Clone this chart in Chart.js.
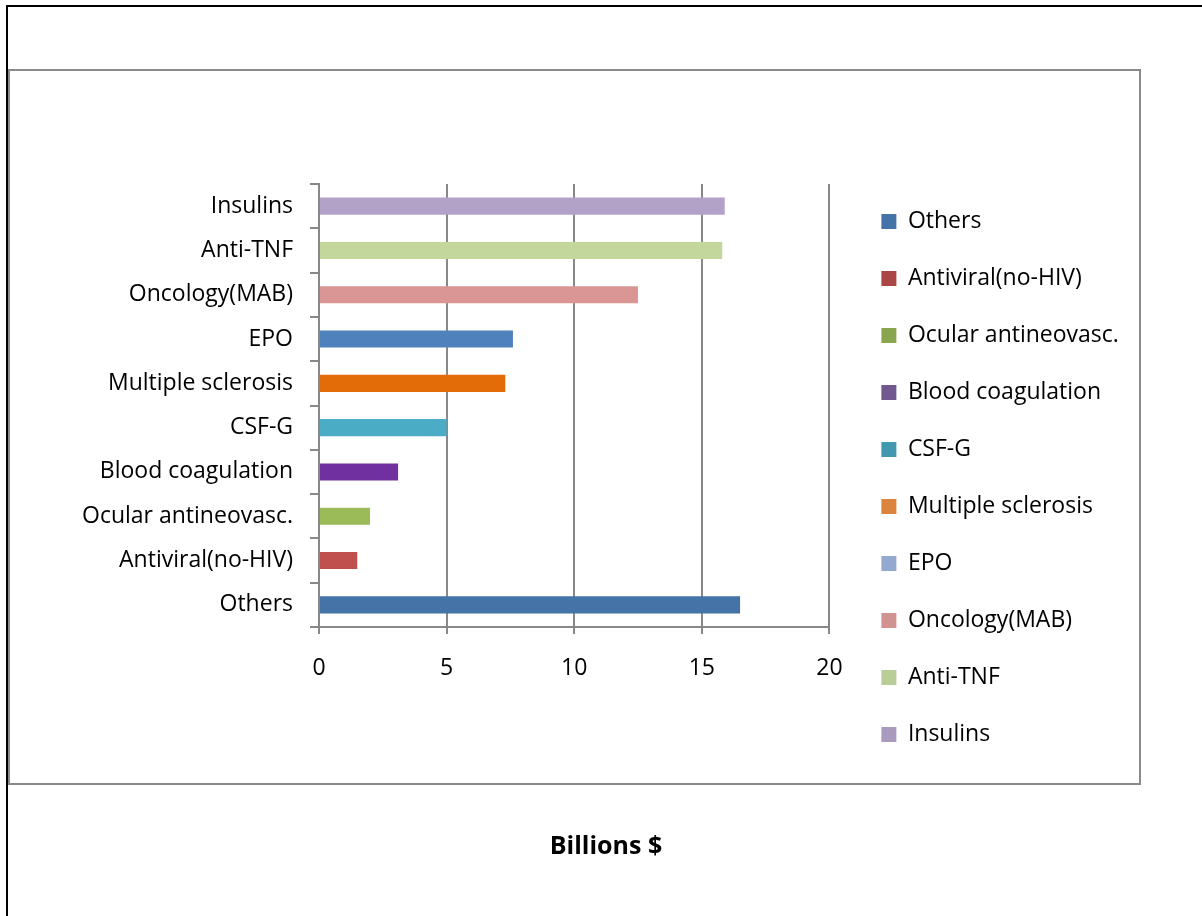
<!DOCTYPE html>
<html>
<head>
<meta charset="utf-8">
<title>Biologics sales by class</title>
<script src="https://cdn.jsdelivr.net/npm/chart.js@4/dist/chart.umd.min.js"></script>
<style>
  html, body { margin: 0; padding: 0; background: #ffffff; }
  #wrap { width: 1202px; height: 916px; position: relative; }
</style>
</head>
<body>
<div id="wrap"><canvas id="chart" width="1202" height="916"></canvas></div>
<script>
// Therapeutic classes, bottom to top on the category axis
const categories = [
  'Others', 'Antiviral(no-HIV)', 'Ocular antineovasc.', 'Blood coagulation', 'CSF-G',
  'Multiple sclerosis', 'EPO', 'Oncology(MAB)', 'Anti-TNF', 'Insulins'
];
// Sales, billions of dollars
const salesBillions = [16.5, 1.5, 2.0, 3.1, 5.0, 7.3, 7.6, 12.5, 15.8, 15.9];
// Bar fills (recoloured per bar) and the default swatches shown in the legend
const barColors = [
  '#4572A7', '#C0504D', '#9BBB59', '#7030A0', '#4BACC6',
  '#E36C09', '#4F81BD', '#D99694', '#C3D69B', '#B3A2C7'
];
const legendColors = [
  '#4572A7', '#AA4643', '#89A54E', '#71588F', '#4198AF',
  '#DB843D', '#93A9CF', '#D19392', '#B9CD96', '#A99BBD'
];
const xTickValues = [0, 5, 10, 15, 20];
const axisTitle = 'Billions $';

const FONT = '"Open Sans", "Liberation Sans", sans-serif';
const LABEL_SIZE = 23;
const GRID = '#888888';
const LEGEND_PAD = 34;
const LEGEND_BOX = 15;
const PLOT_RIGHT = 829;

// Width the legend column will need, so the plot ends where wanted
const measureCtx = document.createElement('canvas').getContext('2d');
measureCtx.font = LABEL_SIZE + 'px ' + FONT;
const widestLabel = Math.max(...categories.map(c => measureCtx.measureText(c).width));
const legendWidth = LEGEND_PAD + LEGEND_BOX + LABEL_SIZE / 2 + widestLabel;
const rightPad = 1202 - PLOT_RIGHT - legendWidth - 2;

// Page frames: outer black border and the grey box round plot and legend
const framePlugin = {
  id: 'frames',
  beforeDraw(chart) {
    const ctx = chart.ctx;
    ctx.save();
    ctx.fillStyle = '#ffffff';
    ctx.fillRect(0, 0, chart.width, chart.height);
    ctx.lineWidth = 2;
    ctx.strokeStyle = '#000000';
    ctx.strokeRect(7, 6, 1300, 1000);
    ctx.strokeStyle = '#8a8a8a';
    ctx.strokeRect(9, 70, 1131, 714);
    ctx.restore();
  }
};

// Places the legend column beside the plot and centres the title under the grey box
const layoutTweaks = {
  id: 'layoutTweaks',
  afterLayout(chart) {
    const lg = chart.legend;
    if (lg) {
      const dx = chart.chartArea.right + 18 - lg.left;
      lg.left += dx; lg.right += dx;
      lg.top -= 8; lg.bottom -= 8;
    }
    const tb = chart.titleBlock;
    if (tb) {
      tb.left = 10; tb.right = chart.width; tb.width = tb.right - tb.left;
    }
  }
};

new Chart(document.getElementById('chart'), {
  type: 'bar',
  data: {
    labels: categories,
    datasets: [{
      label: axisTitle,
      data: salesBillions,
      backgroundColor: barColors,
      borderWidth: 0,
      barPercentage: 0.385,
      categoryPercentage: 1
    }]
  },
  options: {
    indexAxis: 'y',
    responsive: false,
    animation: false,
    devicePixelRatio: 1,
    layout: { padding: { top: 184, left: 10, right: rightPad, bottom: 0 } },
    scales: {
      x: {
        type: 'linear',
        min: xTickValues[0],
        max: xTickValues[xTickValues.length - 1],
        afterBuildTicks(scale) { scale.ticks = xTickValues.map(v => ({ value: v })); },
        afterFit(scale) { scale.height = 56; },
        grid: { color: GRID, lineWidth: 2, tickLength: 7, drawTicks: true },
        border: { color: GRID, width: 2 },
        ticks: {
          color: '#000000',
          padding: 21,
          font: { family: FONT, size: LABEL_SIZE }
        }
      },
      y: {
        type: 'category',
        reverse: true,
        afterFit(scale) { scale.width = 309; },
        grid: { offset: true, drawOnChartArea: false, color: GRID, lineWidth: 2, tickLength: 9 },
        border: { color: GRID, width: 2 },
        ticks: {
          color: '#000000',
          padding: 17,
          autoSkip: false,
          font: { family: FONT, size: LABEL_SIZE }
        }
      }
    },
    plugins: {
      tooltip: { enabled: false },
      legend: {
        position: 'right',
        align: 'start',
        onClick: null,
        labels: {
          boxWidth: LEGEND_BOX,
          boxHeight: LEGEND_BOX,
          padding: LEGEND_PAD,
          color: '#000000',
          font: { family: FONT, size: LABEL_SIZE },
          generateLabels: () => categories.map((c, i) => ({
            text: c,
            fillStyle: legendColors[i],
            strokeStyle: legendColors[i],
            lineWidth: 0,
            hidden: false,
            index: i
          }))
        }
      },
      title: {
        display: true,
        text: axisTitle,
        position: 'bottom',
        color: '#000000',
        font: { family: FONT, size: 25, weight: 'bold' },
        padding: { top: 149, bottom: 54 }
      }
    }
  },
  plugins: [framePlugin, layoutTweaks]
});
</script>
</body>
</html>
